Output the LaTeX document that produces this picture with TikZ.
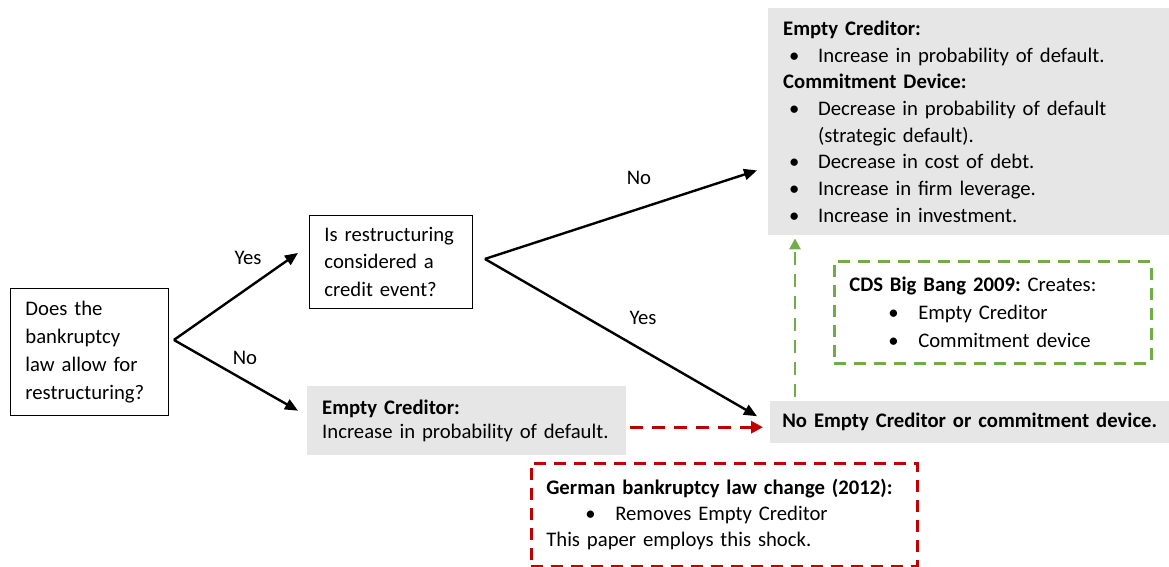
\documentclass[tikz,border=0pt]{standalone}
\usepackage{fontspec}
\setmainfont{Carlito}
\usetikzlibrary{arrows.meta}
\definecolor{boxgray}{HTML}{E7E6E6}
\definecolor{shockred}{HTML}{C00000}
\definecolor{shockgreen}{HTML}{70AD47}
\newcommand{\bul}{\makebox[35pt][l]{\hspace{6pt}\textbullet}}
\newcommand{\bulb}{\hspace*{39pt}\makebox[30pt][l]{\textbullet}}
\frenchspacing
\begin{document}
\begin{tikzpicture}[x=1pt,y=-1pt,
  every node/.style={font=\fontsize{20.7}{26.7}\selectfont},
  qbox/.style={draw=black, line width=0.9pt, align=left, inner xsep=15pt, inner ysep=0pt, anchor=north west},
  gbox/.style={fill=boxgray, align=left, inner xsep=15pt, inner ysep=0pt, anchor=north west},
  dbox/.style={line width=2.6pt, dash pattern=on 12pt off 8pt, align=left, inner xsep=15pt, inner ysep=0pt, anchor=north west},
  blackarrow/.style={line width=2.4pt, -{Triangle[length=13pt,width=11pt]}},
  redarrow/.style={draw=shockred, line width=3pt, dash pattern=on 13pt off 9pt, -{Triangle[length=12pt,width=12pt]}},
  greenarrow/.style={draw=shockgreen, line width=2.6pt, dash pattern=on 13pt off 9pt, -{Triangle[length=11pt,width=11pt]}},
  lbl/.style={inner sep=0pt}
]
\useasboundingbox (0,0) rectangle (1169,567);

\node[qbox, text width=128pt, minimum height=127pt, font=\fontsize{20.7}{28}\selectfont] (law) at (10,288)
  {Does the\\bankruptcy\\law allow for\\restructuring?};
\node[qbox, text width=133pt, minimum height=93pt, font=\fontsize{20.7}{27.5}\selectfont] (credit) at (309,215)
  {Is restructuring\\considered a\\credit event?};
\node[gbox, text width=289pt, minimum height=69pt, font=\fontsize{20.7}{24}\selectfont] (ec) at (307,386)
  {\textbf{Empty Creditor:}\\Increase in probability of default.};
\node[gbox, text width=371pt, minimum height=227pt] (both) at (768,8)
  {\textbf{Empty Creditor:}\\
   \bul Increase in probability of default.\\
   \textbf{Commitment Device:}\\
   \bul Decrease in probability of default\\
   \hspace*{35pt}(strategic default).\\
   \bul Decrease in cost of debt.\\
   \bul Increase in firm leverage.\\
   \bul Increase in investment.};
\node[gbox, align=center, inner xsep=4pt, text width=391pt, minimum height=42pt] (none) at (770,401)
  {\textbf{No Empty Creditor or commitment device.}};
\node[dbox, draw=shockgreen, text width=287pt, minimum height=102pt, font=\fontsize{20.7}{28}\selectfont] (cds) at (833,260)
  {\textbf{CDS Big Bang 2009:} Creates:\\
   \bulb Empty Creditor\\
   \bulb Commitment device};
\node[dbox, draw=shockred, text width=356pt, minimum height=103pt, font=\fontsize{20.7}{26}\selectfont] (german) at (530,462)
  {\textbf{German bankruptcy law change (2012):}\\
   \bulb Removes Empty Creditor\\
   This paper employs this shock.};

\node[lbl] (yes1) at (248,258) {Yes};
\node[lbl] (no1) at (245,358) {No};
\node[lbl] (no2) at (639,178) {No};
\node[lbl] (yes2) at (643,318) {Yes};

\draw[blackarrow] ([xshift=5pt,yshift=12pt]law.east) -- ([xshift=-11pt,yshift=9pt]credit.west);
\draw[blackarrow] ([xshift=5pt,yshift=12pt]law.east) -- ([xshift=-9pt,yshift=10pt]ec.west);
\draw[blackarrow] ([xshift=12pt,yshift=3pt]credit.east) -- ([xshift=-11pt,yshift=65pt]both.south west);
\draw[blackarrow] ([xshift=12pt,yshift=3pt]credit.east) -- ([xshift=-13pt,yshift=6pt]none.west);

\draw[redarrow] ([xshift=4pt,yshift=-6.5pt]ec.east) -- ([xshift=-7pt,yshift=-5pt]none.west);
\draw[greenarrow] ([xshift=25pt,yshift=4pt]none.north west) -- ([xshift=27pt,yshift=-3pt]both.south west);
\end{tikzpicture}
\end{document}
